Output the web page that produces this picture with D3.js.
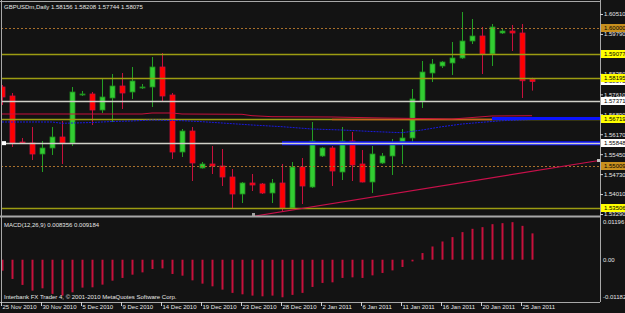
<!DOCTYPE html>
<html>
<head>
<meta charset="utf-8">
<script src="https://cdn.jsdelivr.net/npm/d3@7"></script>
<style>
  body { margin: 0; background: #131313; }
  svg { display: block; }
  text { font-family: "Liberation Sans", Arial, sans-serif; }
</style>
</head>
<body>
<svg id="chart"></svg>
<script>
// bar dates (broker with Sunday bars)
const dates = ["25 Nov 2010","26 Nov 2010","28 Nov 2010","29 Nov 2010","30 Nov 2010","1 Dec 2010","2 Dec 2010","3 Dec 2010","5 Dec 2010","6 Dec 2010","7 Dec 2010","8 Dec 2010","9 Dec 2010","10 Dec 2010","12 Dec 2010","13 Dec 2010","14 Dec 2010","15 Dec 2010","16 Dec 2010","17 Dec 2010","19 Dec 2010","20 Dec 2010","21 Dec 2010","22 Dec 2010","23 Dec 2010","24 Dec 2010","26 Dec 2010","27 Dec 2010","28 Dec 2010","29 Dec 2010","30 Dec 2010","31 Dec 2010","2 Jan 2011","3 Jan 2011","4 Jan 2011","5 Jan 2011","6 Jan 2011","7 Jan 2011","9 Jan 2011","10 Jan 2011","11 Jan 2011","12 Jan 2011","13 Jan 2011","14 Jan 2011","16 Jan 2011","17 Jan 2011","18 Jan 2011","19 Jan 2011","20 Jan 2011","21 Jan 2011","23 Jan 2011","24 Jan 2011","25 Jan 2011","26 Jan 2011"];

const opens = [1.57875,1.57550,1.55889,1.55853,1.55456,1.55673,1.56070,1.55853,1.57586,1.57622,
  1.57044,1.57478,1.57911,1.57694,1.57839,1.57875,1.58597,1.57586,1.55528,1.56286,
  1.54951,1.55095,1.55023,1.54626,1.54012,1.54409,1.54373,1.54048,1.54409,1.53507,
  1.54987,1.54265,1.55384,1.55673,1.54806,1.55925,1.55095,1.54445,1.55131,1.55384,
  1.55853,1.56034,1.57369,1.58380,1.58633,1.58741,1.58922,1.59535,1.59716,1.59066,
  1.59824,1.59896,1.59824,1.58156];
const highs = [1.57947,1.57658,1.56034,1.56431,1.55925,1.56431,1.56647,1.57875,1.57730,1.57694,
  1.58200,1.58344,1.58380,1.58597,1.57983,1.58958,1.59102,1.57658,1.56359,1.56431,
  1.55167,1.55745,1.55637,1.54915,1.54445,1.54734,1.54409,1.54554,1.55095,1.55167,
  1.55312,1.56611,1.55709,1.55745,1.56431,1.56250,1.55600,1.55745,1.55492,1.55998,
  1.56359,1.57803,1.58813,1.58886,1.58813,1.59499,1.60582,1.60330,1.60041,1.60149,
  1.59969,1.60113,1.60149,1.58208];
const lows = [1.57225,1.55709,1.55817,1.55239,1.54806,1.55420,1.55095,1.55745,1.57550,1.56503,
  1.56936,1.56611,1.57081,1.57442,1.57803,1.57153,1.57333,1.55276,1.55348,1.54481,
  1.54930,1.54734,1.54301,1.53507,1.53687,1.54120,1.54012,1.53687,1.53362,1.53471,
  1.53651,1.54229,1.55348,1.54301,1.54517,1.54481,1.54430,1.54048,1.55095,1.54698,
  1.55095,1.55781,1.57117,1.58055,1.58561,1.58308,1.58886,1.59427,1.58344,1.58633,
  1.59788,1.59174,1.57478,1.57744];
const closes = [1.57514,1.55853,1.55853,1.55456,1.55673,1.56070,1.55853,1.57694,1.57622,1.57044,
  1.57514,1.57911,1.57658,1.58091,1.57875,1.58597,1.57550,1.55528,1.56286,1.55131,
  1.55095,1.55023,1.54626,1.54012,1.54409,1.54337,1.54048,1.54409,1.53507,1.54987,
  1.54301,1.55925,1.55673,1.54842,1.55925,1.55059,1.54445,1.55456,1.55384,1.55853,
  1.56034,1.57442,1.58416,1.58705,1.58777,1.58922,1.59535,1.59716,1.59066,1.60041,
  1.59896,1.59824,1.58100,1.58075];

// MACD(12,26,9) histogram
const macd = [-0.00348,-0.00610,-0.00799,-0.00980,-0.00907,-0.01084,-0.01138,-0.01033,-0.00885,-0.00875,
  -0.00790,-0.00664,-0.00578,-0.00474,-0.00401,-0.00294,-0.00275,-0.00452,-0.00506,-0.00654,
  -0.00758,-0.00844,-0.00948,-0.01052,-0.01097,-0.01138,-0.01160,-0.01138,-0.01191,-0.01115,
  -0.01052,-0.00863,-0.00736,-0.00717,-0.00578,-0.00559,-0.00578,-0.00496,-0.00420,-0.00338,
  -0.00231,-0.00054,0.00212,0.00420,0.00578,0.00717,0.00875,0.00980,0.01033,0.01128,
  0.01160,0.01191,0.01074,0.008356];

// moving averages, [bar index, price]
const redMA = [[0,1.56900],[14,1.56900],[15,1.56936],[17,1.56936],[18,1.56900],[24,1.56889],[25,1.56839],
  [27,1.56803],[33,1.56792],[38,1.56756],[45,1.56720],[46,1.56745],[49,1.56828],[53,1.56839]];
const blueMA = [[0,1.56611],[5,1.56611],[6,1.56564],[9,1.56593],[11,1.56629],[13,1.56647],[15,1.56683],
  [18,1.56658],[20,1.56622],[22,1.56575],[25,1.56503],[28,1.56442],[31,1.56359],[34,1.56322],
  [37,1.56268],[40,1.56225],[42,1.56322],[44,1.56442],[46,1.56539],[48,1.56600],[50,1.56658],[53,1.56701]];

// horizontal objects
const dottedLevels = [1.60000, 1.55009];
const oliveLevels = [1.59077, 1.58195, 1.56719, 1.53506];
const grayLevels = [1.57371, 1.55848];
const blueRays = [[28, 1.55848], [49, 1.56735]];
const orangeSegment = [[33, 1.56719], [49, 1.56719]];
const trendLine = [[25.3, 1.53218], [59.7, 1.55221]];
const bidPrice = 1.58075;

const priceTicks = [1.60510, 1.59790, 1.58350, 1.57610, 1.56890, 1.56170, 1.55450, 1.54730, 1.54010, 1.53290];
const macdTicks = [0.01196, 0, -0.01182];

const width = 625, height = 313;
const left = 1, right = 600, mainTop = 1, mainBottom = 216, macdBottom = 302;

const svg = d3.select("#chart")
  .attr("width", width)
  .attr("height", height)
  .attr("viewBox", [0, 0, width, height]);

svg.append("rect").attr("width", width).attr("height", height).attr("fill", "#131313");

const x = d3.scaleLinear().domain([0, 53]).range([2, 532]);
const y = d3.scaleLinear().domain([1.53290, 1.60510]).range([214, 14]);
const ym = d3.scaleLinear().domain([-0.01182, 0.01196]).range([297, 222]);

svg.append("clipPath").attr("id", "mainClip")
  .append("rect").attr("x", left).attr("y", mainTop).attr("width", right - left).attr("height", mainBottom - mainTop);
svg.append("clipPath").attr("id", "macdClip")
  .append("rect").attr("x", left).attr("y", mainBottom + 1).attr("width", right - left).attr("height", macdBottom - mainBottom - 1);

const main = svg.append("g").attr("clip-path", "url(#mainClip)");

// candles
const bars = d3.range(dates.length).map(i => ({i, o: opens[i], h: highs[i], l: lows[i], c: closes[i]}));
const up = d => d.c >= d.o;

main.append("g").selectAll("line")
  .data(bars)
  .join("line")
    .attr("x1", d => x(d.i) + 0.5).attr("x2", d => x(d.i) + 0.5)
    .attr("y1", d => y(d.h)).attr("y2", d => y(d.l))
    .attr("stroke", d => up(d) ? "#24a024" : "#c8103c")
    .attr("stroke-width", 1);

main.append("g").selectAll("rect")
  .data(bars)
  .join("rect")
    .attr("x", d => x(d.i) - 2)
    .attr("width", 5)
    .attr("y", d => y(Math.max(d.o, d.c)))
    .attr("height", d => Math.max(1, Math.abs(y(d.o) - y(d.c))))
    .attr("fill", d => up(d) ? "#32cd32" : "#ff0000")
    .attr("stroke", d => up(d) ? "#1e8a1e" : "#c8103c")
    .attr("stroke-width", 0.8);

// horizontal lines
main.append("g").selectAll("line")
  .data(dottedLevels)
  .join("line")
    .attr("x1", left).attr("x2", right)
    .attr("y1", d => Math.round(y(d)) + 0.5).attr("y2", d => Math.round(y(d)) + 0.5)
    .attr("stroke", "#a8702c")
    .attr("stroke-dasharray", "2,2");

main.append("g").selectAll("line")
  .data(oliveLevels)
  .join("line")
    .attr("x1", left).attr("x2", right)
    .attr("y1", d => Math.round(y(d)) + 0.5).attr("y2", d => Math.round(y(d)) + 0.5)
    .attr("stroke", "#9c9c12")
    .attr("stroke-width", 1.3);

main.append("line")
  .attr("x1", x(orangeSegment[0][0])).attr("x2", x(orangeSegment[1][0]))
  .attr("y1", Math.round(y(orangeSegment[0][1])) + 0.5).attr("y2", Math.round(y(orangeSegment[1][1])) + 0.5)
  .attr("stroke", "#c8641e").attr("stroke-width", 1.3);

main.append("g").selectAll("line")
  .data(blueRays)
  .join("line")
    .attr("x1", d => x(d[0])).attr("x2", right)
    .attr("y1", d => y(d[1])).attr("y2", d => y(d[1]))
    .attr("stroke", "#0c14ff")
    .attr("stroke-width", (d, i) => i === 0 ? 4 : 3);

main.append("g").selectAll("line")
  .data(grayLevels)
  .join("line")
    .attr("x1", left).attr("x2", right)
    .attr("y1", d => Math.round(y(d)) + 0.5).attr("y2", d => Math.round(y(d)) + 0.5)
    .attr("stroke", "#d0d0c8")
    .attr("stroke-width", 1.3);

// moving averages
const maLine = d3.line().x(d => x(d[0])).y(d => y(d[1]));
main.append("path")
  .attr("d", maLine(blueMA))
  .attr("fill", "none")
  .attr("stroke", "#1a1ae0")
  .attr("stroke-dasharray", "2,1");
main.append("path")
  .attr("d", maLine(redMA))
  .attr("fill", "none")
  .attr("stroke", "#c8103c");

// trend line
main.append("path")
  .attr("d", maLine(trendLine))
  .attr("fill", "none")
  .attr("stroke", "#c8104a")
  .attr("stroke-width", 1.2);

// object anchors
main.append("rect").attr("x", left + 1).attr("y", y(grayLevels[1]) - 2).attr("width", 4).attr("height", 4).attr("fill", "#ffffff");
main.append("rect").attr("x", x(trendLine[1][0]) - 2).attr("y", y(trendLine[1][1]) - 1.5).attr("width", 3).attr("height", 3).attr("fill", "#c0c0c0");
main.append("rect").attr("x", x(trendLine[0][0]) - 3).attr("y", y(trendLine[0][1]) - 3).attr("width", 3).attr("height", 3).attr("fill", "#a0a0a0");

// MACD histogram
svg.append("g").attr("clip-path", "url(#macdClip)")
  .selectAll("rect")
  .data(macd)
  .join("rect")
    .attr("x", (d, i) => x(i) - 0.5)
    .attr("width", 2)
    .attr("y", d => Math.min(ym(0), ym(d)))
    .attr("height", d => Math.abs(ym(d) - ym(0)))
    .attr("fill", "#c8103c");

// frame
const frame = svg.append("g").attr("stroke", "#a8a8a8");
frame.append("line").attr("x1", 0).attr("x2", right).attr("y1", mainTop + 0.5).attr("y2", mainTop + 0.5);
frame.append("line").attr("x1", 0).attr("x2", right).attr("y1", mainBottom + 0.5).attr("y2", mainBottom + 0.5).attr("stroke-width", 2);
frame.append("line").attr("x1", 0).attr("x2", right).attr("y1", macdBottom + 0.5).attr("y2", macdBottom + 0.5);
frame.append("line").attr("x1", left + 0.5).attr("x2", left + 0.5).attr("y1", 0).attr("y2", macdBottom);
frame.append("line").attr("x1", right + 0.5).attr("x2", right + 0.5).attr("y1", 0).attr("y2", macdBottom);

// price axis
svg.append("g")
  .attr("transform", `translate(${right},0)`)
  .call(d3.axisRight(y).tickValues(priceTicks).tickSize(3).tickPadding(1).tickFormat(d => d.toFixed(5)))
  .call(g => g.select(".domain").remove())
  .call(g => g.selectAll(".tick line").attr("stroke", "#d0d0d0"))
  .call(g => g.selectAll(".tick text").attr("fill", "#e6e6e6").attr("font-size", 6).attr("font-family", "Liberation Sans, Arial, sans-serif"));

// price tags for objects
const tags = [
  ...grayLevels.map(v => ({v, fill: "#ffffff"})),
  {v: bidPrice, fill: "#ffffff"},
  ...dottedLevels.map(v => ({v, fill: "#c8901e"})),
  ...oliveLevels.map(v => ({v, fill: "#ffff00"}))
];
const tagG = svg.append("g").selectAll("g")
  .data(tags)
  .join("g")
    .attr("transform", d => `translate(${right + 1},${Math.round(y(d.v))})`);
tagG.append("rect").attr("x", 0).attr("y", -4).attr("width", 25).attr("height", 8).attr("fill", d => d.fill);
tagG.append("text")
  .attr("x", 3).attr("dy", "0.34em")
  .attr("font-size", 6)
  .attr("fill", "#000")
  .text(d => d.v.toFixed(5));

// MACD axis
svg.append("g")
  .attr("transform", `translate(${right},0)`)
  .call(d3.axisRight(ym).tickValues(macdTicks).tickSize(0).tickPadding(3).tickFormat(d => d === 0 ? "0.00" : d.toFixed(5)))
  .call(g => g.select(".domain").remove())
  .call(g => g.selectAll(".tick text").attr("fill", "#e6e6e6").attr("font-size", 6).attr("font-family", "Liberation Sans, Arial, sans-serif"));

// date axis
svg.append("g")
  .attr("transform", `translate(0,${macdBottom})`)
  .call(d3.axisBottom(x).tickValues(d3.range(0, dates.length, 4)).tickSize(4).tickPadding(2).tickFormat(i => dates[i]))
  .call(g => g.select(".domain").remove())
  .call(g => g.selectAll(".tick line").attr("stroke", "#d0d0d0").attr("transform", "translate(-1,0)"))
  .call(g => g.selectAll(".tick text")
    .attr("fill", "#e6e6e6").attr("font-size", 6).attr("font-family", "Liberation Sans, Arial, sans-serif")
    .attr("text-anchor", "start").attr("x", 0).attr("y", 3).attr("dy", "0.71em"));

// captions
const last = dates.length - 1;
svg.append("text").attr("x", 4).attr("y", 8.5).attr("font-size", 6).attr("fill", "#e6e6e6")
  .text(`GBPUSDm,Daily  ${opens[last].toFixed(5)} ${highs[last].toFixed(5)} ${lows[last].toFixed(5)} ${closes[last].toFixed(5)}`);
svg.append("text").attr("x", 4).attr("y", 226.5).attr("font-size", 6).attr("fill", "#e6e6e6")
  .text(`MACD(12,26,9) ${macd[last].toFixed(6)} 0.009184`);
svg.append("text").attr("x", 4).attr("y", 299).attr("font-size", 6).attr("fill", "#e6e6e6")
  .text("Interbank FX Trader 4, © 2001-2010 MetaQuotes Software Corp.");
</script>
</body>
</html>
